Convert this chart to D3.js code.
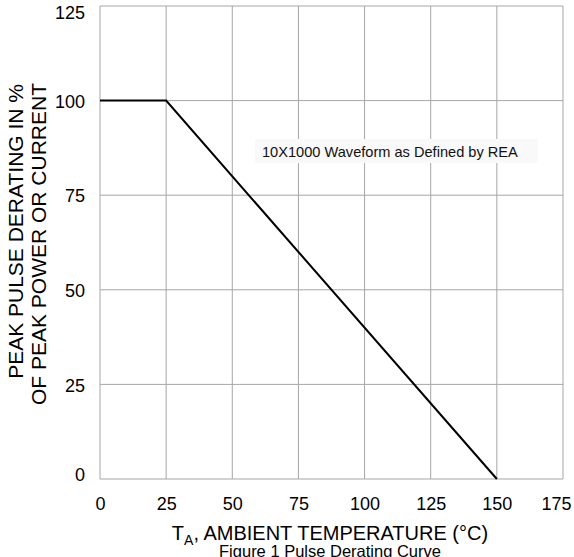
<!DOCTYPE html>
<html><head><meta charset="utf-8">
<script src="https://cdn.jsdelivr.net/npm/d3@7"></script>
<style>body{margin:0;background:#fff}svg{display:block;font-family:"Liberation Sans",Arial,sans-serif}</style>
</head><body>
<svg id="c" width="574" height="557"></svg>
<script>
const xTicks = [0, 25, 50, 75, 100, 125, 150, 175];
const yTicks = [0, 25, 50, 75, 100, 125];
const tempC = [0, 25, 150];
const deratingPct = [100, 100, 0];
const yLabelLines = ["PEAK PULSE DERATING IN %", "OF PEAK POWER OR CURRENT"];
const annotation = "10X1000 Waveform as Defined by REA";
const title = "Figure 1 Pulse Derating Curve";

const svg = d3.select("#c");
const L = 100, R = 563, T = 6, B = 479;
const x = d3.scaleLinear().domain([0, 175]).range([L, R]);
const y = d3.scaleLinear().domain([0, 125]).range([B, T]);
const FONT = "Liberation Sans, Arial, sans-serif";

// grid
svg.append("g").selectAll("line").data(xTicks).join("line")
  .attr("x1", d => x(d)).attr("x2", d => x(d)).attr("y1", T).attr("y2", B)
  .attr("stroke", "#a6a6a6").attr("stroke-width", 1);
svg.append("g").selectAll("line").data(yTicks).join("line")
  .attr("y1", d => y(d)).attr("y2", d => y(d)).attr("x1", L).attr("x2", R)
  .attr("stroke", "#a6a6a6").attr("stroke-width", 1);

// annotation box
svg.append("rect").attr("x", 255).attr("y", 139).attr("width", 283).attr("height", 24).attr("fill", "#f9f9f9");
svg.append("text").attr("x", 262).attr("y", 156.5).attr("font-size", 14.6).attr("fill", "#111").text(annotation);

// x tick labels
const xAxis = d3.axisBottom(x).tickValues(xTicks).tickSize(0).tickPadding(0);
const gx = svg.append("g").attr("transform", `translate(0,510)`).call(xAxis);
gx.select(".domain").remove();
gx.selectAll("text").attr("font-size", 18).attr("font-family", FONT).attr("fill", "#000").attr("dy", 0).attr("y", 0)
  .each(function (d) {
    const bb = this.getBBox();
    const over = x(d) + bb.x + bb.width - 571;
    if (over > 0) d3.select(this).attr("x", -over);
  });

// y tick labels
const yAxis = d3.axisLeft(y).tickValues(yTicks).tickSize(0).tickPadding(0);
const gy = svg.append("g").attr("transform", `translate(85,0)`).call(yAxis);
gy.select(".domain").remove();
gy.selectAll(".tick").each(function (d) {
  const yc = y(d);
  const clamped = Math.max(13, Math.min(475, yc + 1));
  d3.select(this).select("text").attr("y", clamped - yc);
});
gy.selectAll("text").attr("font-size", 18).attr("font-family", FONT).attr("fill", "#000");

// line
svg.append("path").datum(tempC.map((t, i) => [t, deratingPct[i]]))
  .attr("d", d3.line().x(d => x(d[0])).y(d => y(d[1])))
  .attr("fill", "none").attr("stroke", "#000").attr("stroke-width", 2);

// y title
const yt = svg.append("text").attr("transform", `rotate(-90)`)
  .attr("text-anchor", "end").attr("font-size", 21);
yt.append("tspan").attr("x", -84).attr("y", 23).text(yLabelLines[0]);
yt.append("tspan").attr("x", -83).attr("y", 46).text(yLabelLines[1]);

// x title
const xt = svg.append("text").attr("x", 330).attr("y", 540).attr("text-anchor", "middle").attr("font-size", 20);
xt.append("tspan").text("T");
xt.append("tspan").attr("font-size", 14).attr("dy", 5).text("A");
xt.append("tspan").attr("dy", -5).text(", AMBIENT TEMPERATURE (°C)");

svg.append("text").attr("x", 330).attr("y", 557).attr("text-anchor", "middle").attr("font-size", 16.5).text(title);
</script>
</body></html>
